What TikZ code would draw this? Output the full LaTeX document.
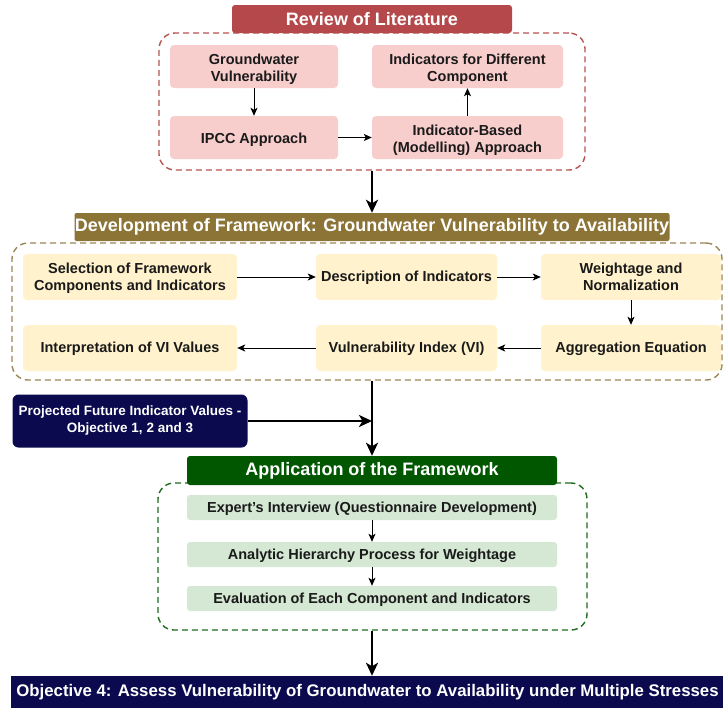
\documentclass[tikz,border=0pt]{standalone}
\usepackage{fontspec}
\setmainfont{Liberation Sans}
\usetikzlibrary{arrows.meta}

\definecolor{litred}{HTML}{B5484B}
\definecolor{litdash}{HTML}{B85450}
\definecolor{litfill}{HTML}{F8CECC}
\definecolor{devolive}{HTML}{8B7436}
\definecolor{devdash}{HTML}{9A8756}
\definecolor{devfill}{HTML}{FFF2CC}
\definecolor{navy}{HTML}{0B0A4E}
\definecolor{appgreen}{HTML}{005700}
\definecolor{appdash}{HTML}{1F6B1F}
\definecolor{appfill}{HTML}{D5E8D4}
\definecolor{ink}{HTML}{1A1A1A}

% box text: a centred stack of lines, set a little lower inside its box
% (the depth of the stack is cut by twice the offset, so the node centre moves up)
\newcommand\boxlines[2][2.5pt]{\begingroup
  \setbox0=\hbox{\begin{tabular}{@{}c@{}}#2\end{tabular}}%
  \dp0=\dimexpr\dp0-#1-#1\relax\box0\endgroup}

\tikzset{
  x=1pt, y=-1pt,
  titlebar/.style={fill=#1, rounded corners=3pt, text=white, font=\bfseries\fontsize{18}{20}\selectfont, inner sep=0pt},
  group/.style={draw=#1, dashed, dash pattern=on 6pt off 4pt, line width=1.4pt, rounded corners=16pt, inner sep=0pt},
  litbox/.style={fill=litfill, rounded corners=4pt, inner sep=0pt, text=ink,
    font=\bfseries\fontsize{14.5}{17}\selectfont, minimum width=168pt, minimum height=43pt},
  devbox/.style={fill=devfill, rounded corners=4pt, inner sep=0pt, text=ink,
    font=\bfseries\fontsize{14.5}{17}\selectfont, minimum height=46pt},
  appbox/.style={fill=appfill, rounded corners=3pt, inner sep=0pt, text=ink,
    font=\bfseries\fontsize{14.5}{16}\selectfont, minimum width=370pt, minimum height=25pt},
  thin/.style={-{Stealth[length=8pt,width=7pt,inset=2pt]}, line width=1pt},
  heavy/.style={-{Stealth[length=13pt,width=12pt,inset=3.5pt]}, line width=2.8pt},
}

\begin{document}
\begin{tikzpicture}
\useasboundingbox (0,0) rectangle (723,710);
\fill[white] (0,0) rectangle (723,710);

% ---------- Review of literature ----------
\node[group=litdash, minimum width=426pt, minimum height=137pt] (rev) at (372,101.5) {};
\node[titlebar=litred, minimum width=280pt, minimum height=28pt] (revt) at (372,19) {Review of Literature};
\node[litbox] (gv)  at (254,66.5)  {\boxlines[3pt]{Groundwater\\Vulnerability}};
\node[litbox] (ipcc) at (254,137.5) {\boxlines[2.5pt]{IPCC Approach}};
\node[litbox, minimum width=191pt] (ind) at (467.5,66.5)  {\boxlines[3pt]{Indicators for Different\\Component}};
\node[litbox, minimum width=191pt] (ib)  at (467.5,137.5) {\boxlines[3pt]{Indicator-Based\\(Modelling) Approach}};
\draw[thin] (gv) -- (ipcc);
\draw[thin] (ipcc) -- (ib);
\draw[thin] (ib) -- (ind);

% ---------- Development of framework ----------
\node[group=devdash, minimum width=710pt, minimum height=137pt] (dev) at (367,311.5) {};
\node[titlebar=devolive, rounded corners=2pt, minimum width=595pt, minimum height=28pt] (devt) at (372,227)
      {Development of Framework: Groundwater Vulnerability to Availability};
\node[devbox, minimum width=214pt] (sel)  at (130,277)  {\boxlines[1.5pt]{Selection of Framework\\Components and Indicators}};
\node[devbox, minimum width=181pt] (desc) at (406.5,277) {\boxlines[1.5pt]{Description of Indicators}};
\node[devbox, minimum width=180pt] (wn)   at (631,277)  {\boxlines[1.5pt]{Weightage and\\Normalization}};
\node[devbox, minimum width=214pt] (interp) at (130,348) {\boxlines[1.5pt]{Interpretation of VI Values}};
\node[devbox, minimum width=181pt] (vi)   at (406.5,348) {\boxlines[1.5pt]{Vulnerability Index (VI)}};
\node[devbox, minimum width=180pt] (agg)  at (631,348)  {\boxlines[1.5pt]{Aggregation Equation}};
\draw[thin] (sel) -- (desc);
\draw[thin] (desc) -- (wn);
\draw[thin] (wn) -- (agg);
\draw[thin] (agg) -- (vi);
\draw[thin] (vi) -- (interp);

% ---------- Projected values ----------
\node[fill=navy, rounded corners=6pt, text=white, align=center, inner sep=0pt,
      minimum width=235pt, minimum height=53pt,
      font=\bfseries\fontsize{13.5}{17}\selectfont] (proj) at (130,421)
      {Projected Future Indicator Values -\\Objective 1, 2 and 3};

% ---------- Application of the framework ----------
\node[group=appdash, minimum width=429pt, minimum height=147pt] (app) at (372.5,556.5) {};
\node[titlebar=appgreen, minimum width=370pt, minimum height=29pt] (appt) at (372,470.5) {Application of the Framework};
\node[appbox] (exp)  at (372,507.5) {\boxlines[2pt]{Expert's Interview (Questionnaire Development)}};
\node[appbox] (ahp)  at (372,554.5) {\boxlines[2pt]{Analytic Hierarchy Process for Weightage}};
\node[appbox] (eval) at (372,598.5) {\boxlines[2pt]{Evaluation of Each Component and Indicators}};
\draw[thin] (exp) -- (ahp);
\draw[thin] (ahp) -- (eval);

% ---------- Objective 4 ----------
\node[fill=navy, text=white, inner sep=0pt, minimum width=713pt, minimum height=32pt,
      font=\bfseries\fontsize{16.8}{18}\selectfont] (obj) at (367.5,692)
      {Objective 4: Assess Vulnerability of Groundwater to Availability under Multiple Stresses};

% ---------- Main flow ----------
\draw[heavy] (rev.south -| devt.north) -- (devt.north);
\draw[heavy] (dev.south -| appt.north) -- (appt.north);
\draw[heavy] (proj.east) -- (proj.east -| appt.north);
\draw[heavy] (app.south -| appt.north) -- (obj.north -| appt.north);
\end{tikzpicture}
\end{document}
